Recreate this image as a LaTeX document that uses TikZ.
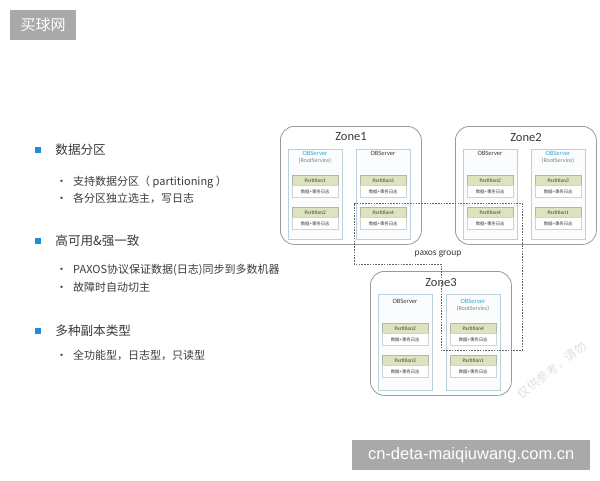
\documentclass[tikz,border=0pt]{standalone}
\usepackage{fontspec}
\setmainfont{Carlito}
\newfontfamily\cjk{Noto Sans CJK SC}
\newfontfamily\wmfont{Liberation Sans}
\usetikzlibrary{positioning}
\definecolor{textgray}{HTML}{3A3A3A}
\definecolor{bulletblue}{HTML}{1B8FCF}
\definecolor{rootcyan}{HTML}{3AA8D2}
\definecolor{zoneline}{HTML}{9A9A9A}
\definecolor{srvline}{HTML}{BCD0DC}
\definecolor{srvfill}{HTML}{FAFCFD}
\definecolor{partgreen}{HTML}{DDE3BE}
\definecolor{partline}{HTML}{B4B6A6}
\definecolor{wmgray}{HTML}{A9A9A9}

\newcommand{\partbox}[4]{%
  \node[parthead] (#1h) at (#2,#3) {Partition#4};
  \node[partbody, below=0pt of #1h] (#1b) {\cjk 数据+事务日志};
}

\begin{document}
\begin{tikzpicture}[x=1pt, y=-1pt,
    sqbullet/.style={fill=bulletblue, minimum size=6pt, inner sep=0pt},
    heading/.style={anchor=west, text=textgray, inner sep=1pt, font=\cjk\fontsize{12.6}{14}\selectfont},
    item/.style={anchor=west, text=textgray, inner sep=1pt, font=\cjk\fontsize{11}{13}\selectfont},
    zone/.style={draw=zoneline, line width=0.8pt, rounded corners=14pt, fill=white, anchor=north west, minimum width=141pt},
    zonetitle/.style={text=textgray, inner sep=0pt, font=\fontsize{12.5}{13}\selectfont},
    server/.style={draw=srvline, fill=srvfill, line width=0.6pt, anchor=north west, minimum width=54pt},
    srvname/.style={text=textgray, inner sep=0.5pt, font=\fontsize{6.5}{7}\selectfont},
    rootname/.style={srvname, text=rootcyan},
    rootsub/.style={text=gray, inner sep=0.5pt, font=\fontsize{6}{7}\selectfont},
    parthead/.style={draw=partline, fill=partgreen, line width=0.4pt, anchor=north west, minimum width=46pt, minimum height=10pt, inner sep=0pt, text=textgray, font=\fontsize{5.3}{6}\selectfont},
    partbody/.style={draw=gray!35, fill=white, line width=0.4pt, minimum width=46pt, minimum height=12pt, inner sep=0pt, text=textgray, font=\fontsize{4.4}{5}\selectfont},
    paxos/.style={draw=gray!80!black, dashed, line width=0.6pt, dash pattern=on 1.6pt off 1.2pt},
    wmbox/.style={fill=wmgray, text=white, anchor=north west, inner sep=0pt}]
    \useasboundingbox (0,0) rectangle (600,480);

    % Left panel: three topics with their points
    \node[sqbullet] (sq1) at (38,150) {};
    \node[heading, right=13pt of sq1] (h1) {数据分区};
    \node[item] (i11) at (55,182) {•\hspace{6pt}支持数据分区（ partitioning ）};
    \node[item] (i12) at (55,198) {•\hspace{6pt}各分区独立选主，写日志};

    \node[sqbullet] (sq2) at (38,241) {};
    \node[heading, right=13pt of sq2] (h2) {高可用\&强一致};
    \node[item] (i21) at (55,270) {•\hspace{6pt}PAXOS协议保证数据(日志)同步到多数机器};
    \node[item] (i22) at (55,287) {•\hspace{6pt}故障时自动切主};

    \node[sqbullet] (sq3) at (38,331) {};
    \node[heading, right=13pt of sq3] (h3) {多种副本类型};
    \node[item] (i31) at (55,355) {•\hspace{6pt}全功能型，日志型，只读型};

    % Zones, each with two OBServers holding two partitions
    \foreach \z/\zx/\zy/\zh/\dy/\r/\pa/\pb/\pc/\pd in
        {1/280/126/118/0/1/1/2/3/4, 2/455/126/118/0/2/2/4/3/1, 3/370/271/124/3/2/2/3/4/1} {
      \begin{scope}[shift={(\zx,\zy)}]
        \node[zone, minimum height=\zh] (zone\z) at (0,0) {};
        \node[zonetitle] (title\z) at (71,11) {Zone\z};
        \node[server, minimum height=\zh-28] (srv\z-1) at (8,23) {};
        \node[server, minimum height=\zh-28] (srv\z-2) at (76,23) {};
        \ifnum\r=1
          \node[rootname] (name\z-1) at (35,27+\dy) {OBServer};
          \node[rootsub, below=1.2pt of name\z-1] (sub\z-1) {(RootService)};
          \node[srvname] (name\z-2) at (103,27+\dy) {OBServer};
        \else
          \node[srvname] (name\z-1) at (35,27+\dy) {OBServer};
          \node[rootname] (name\z-2) at (103,27+\dy) {OBServer};
          \node[rootsub, below=1.2pt of name\z-2] (sub\z-2) {(RootService)};
        \fi
        \partbox{p\z-\pa}{12}{49+\dy}{\pa}
        \partbox{p\z-\pb}{12}{81+\dy}{\pb}
        \partbox{p\z-\pc}{80}{49+\dy}{\pc}
        \partbox{p\z-\pd}{80}{81+\dy}{\pd}
      \end{scope}
    }

    % paxos group round the three Partition4 replicas
    \draw[paxos] (354,203) -- (522,203) -- (522,350) -- (441,350) -- (441,264) -- (354,264) -- cycle;
    \node[text=textgray, font=\fontsize{9.5}{10}\selectfont] (paxoslabel) at (438,254) {paxos group};

    % watermarks
    \node[text=gray!25, rotate=38, font=\cjk\fontsize{12}{12}\selectfont] (wm3) at (552,370) {仅供参考，请勿};
    \node[wmbox, minimum width=66pt, minimum height=30pt] (wm1) at (10,10) {\cjk\fontsize{15}{15}\selectfont 买球网};
    \node[wmbox, minimum width=238pt, minimum height=30pt] (wm2) at (352,440) {\wmfont\fontsize{16.5}{17}\selectfont cn-deta-maiqiuwang.com.cn};
\end{tikzpicture}
\end{document}
